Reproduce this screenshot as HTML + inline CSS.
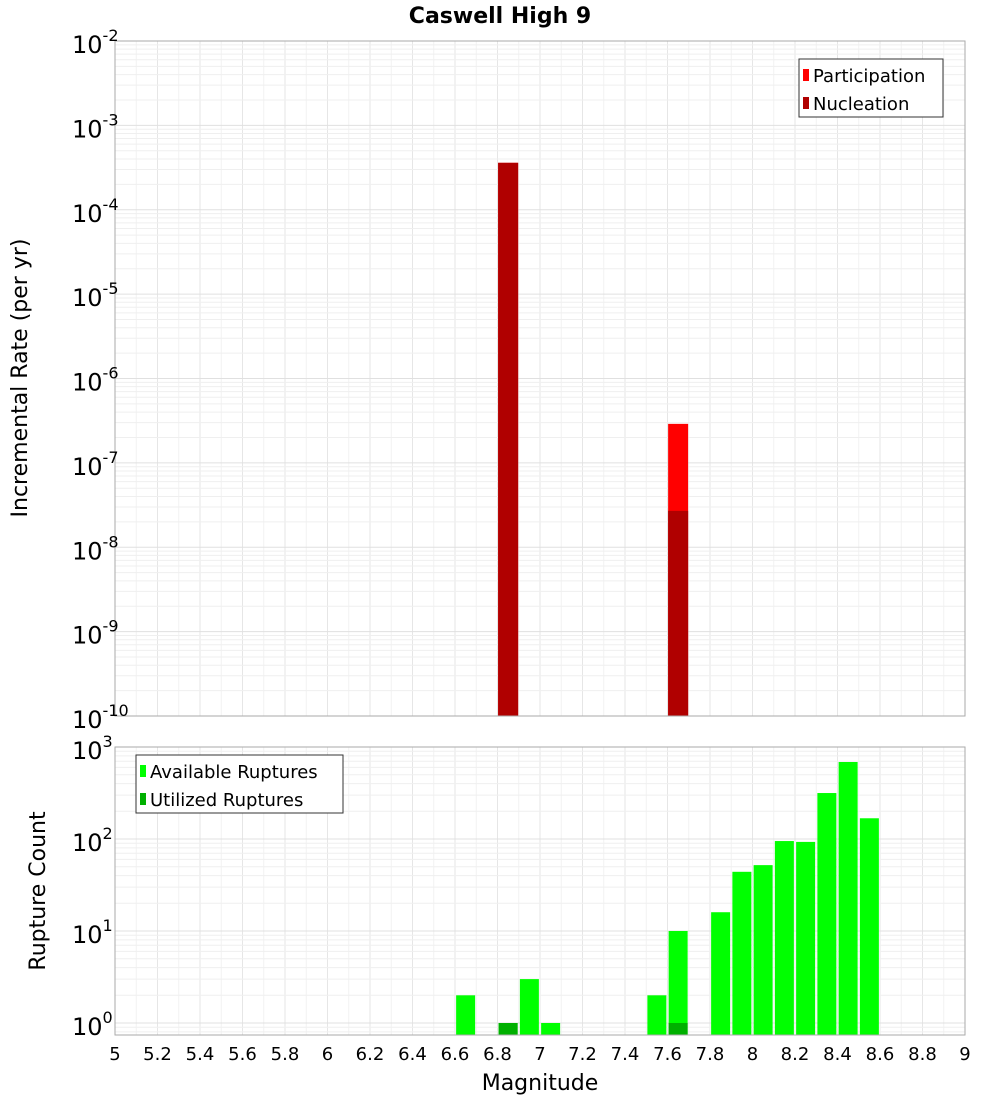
<!DOCTYPE html>
<html><head><meta charset="utf-8"><style>
body{margin:0;background:#fff;font-family:"DejaVu Sans","Liberation Sans",sans-serif;}
svg text{font-family:"DejaVu Sans","Liberation Sans",sans-serif;}
</style></head><body>
<svg id="c" width="1000" height="1100" xmlns="http://www.w3.org/2000/svg"></svg>
<script>
const mags = [6.85, 7.65];
const participation = [3.6e-4, 2.9e-7];
const nucleation = [3.6e-4, 2.7e-8];
const countMags = [6.65, 6.85, 6.95, 7.05, 7.55, 7.65, 7.85, 7.95, 8.05, 8.15, 8.25, 8.35, 8.45, 8.55];
const available = [2, 1, 3, 1, 2, 10, 16, 44, 52, 95, 93, 316, 687, 168];
const utilized = [0, 1, 0, 0, 0, 1, 0, 0, 0, 0, 0, 0, 0, 0];
const xTicks = ["5","5.2","5.4","5.6","5.8","6","6.2","6.4","6.6","6.8","7","7.2","7.4","7.6","7.8","8","8.2","8.4","8.6","8.8","9"];

const svg = document.getElementById('c');
const NS = 'http://www.w3.org/2000/svg';
function el(t, a, p){const e=document.createElementNS(NS,t);for(const k in a)e.setAttribute(k,a[k]);(p||svg).appendChild(e);return e;}
const L=115,R=965;
const x = m => L + (m-5)/4*(R-L);
const T1=41,B1=716, yTop = v => T1 + (-2 - Math.log10(v))*(B1-T1)/8;
const T2=747,B2=1035, D2=92, yBot = v => T2 + (3 - Math.log10(v))*D2;
const bw = 20;

function grid(top,bot,minE,maxE,yf){
  const g=el('g',{});
  
  
  for(let i=0;i<=40;i++){const xx=L+i*(R-L)/40; el('line',{x1:xx,x2:xx,y1:top,y2:bot,stroke:i%2?'#f2f2f2':'#e6e6e6','stroke-width':1},g);}
  for(let e=minE;e<maxE;e++)for(let k=1;k<10;k++){const yy=yf(k*Math.pow(10,e)); if(yy<top||yy>bot)continue; el('line',{x1:L,x2:R,y1:yy,y2:yy,stroke:k==1?'#e0e0e0':'#efefef','stroke-width':1},g);}
}
grid(T1,B1,-10,-2,yTop);
grid(T2,B2,-1,3,yBot);

// top bars
for(let i=0;i<mags.length;i++){
  const r=el('rect',{x:x(mags[i])-bw/2,y:yTop(participation[i]),width:bw,height:B1-yTop(participation[i]),fill:'#ff0000'});
  
  
  const n=el('rect',{x:x(mags[i])-bw/2,y:yTop(nucleation[i]),width:bw,height:B1-yTop(nucleation[i]),fill:'#b00000'});
  
  
}
// bottom bars
for(let i=0;i<countMags.length;i++){
  const r=el('rect',{x:x(countMags[i])-9.5,y:yBot(available[i]),width:19,height:B2-yBot(available[i]),fill:'#00ff00'});
  
  
  if(utilized[i]>0){
    const u=el('rect',{x:x(countMags[i])-9.5,y:yBot(utilized[i]),width:19,height:B2-yBot(utilized[i]),fill:'#00b000'});
    
    
  }
}
el('rect',{x:L,y:T1,width:R-L,height:B1-T1,fill:'none',stroke:'#aaa'});
el('rect',{x:L,y:T2,width:R-L,height:B2-T2,fill:'none',stroke:'#aaa'});

// y labels top
for(let e=-10;e<=-2;e++){
  const yy=yTop(Math.pow(10,e));
  const t=el('text',{x:72,y:yy+12,'font-size':24,fill:'#000'});
  
  
  t.innerHTML='10<tspan dy="-12" font-size="16">'+e+'</tspan>';
}
for(let e=0;e<=3;e++){
  const yy=yBot(Math.pow(10,e));
  const t=el('text',{x:72,y:yy+12,'font-size':24,fill:'#000'});
  
  
  t.innerHTML='10<tspan dy="-12" font-size="16">'+e+'</tspan>';
}
xTicks.forEach((s,i)=>{
  const t=el('text',{x:x(parseFloat(s)),y:1060,'font-size':18,'text-anchor':'middle',fill:'#000'});
  
  
  t.textContent=s;
});
function txt(s,a,name){const t=el('text',a);t.textContent=s;return t;}
txt('Caswell High 9',{x:500,y:23,'font-size':22,'font-weight':'bold','text-anchor':'middle'},'chart-title');
txt('Magnitude',{x:540,y:1090,'font-size':22,'text-anchor':'middle'},'x-axis-title');
txt('Incremental Rate (per yr)',{x:27,y:378,'font-size':22,'text-anchor':'middle',transform:'rotate(-90 27 378)'},'y-axis-title-top');
txt('Rupture Count',{x:45,y:891,'font-size':22,'text-anchor':'middle',transform:'rotate(-90 45 891)'},'y-axis-title-bottom');

// legends
function legend(x0,y0,w,items,name){
  const g=el('g',{});
  
  
  el('rect',{x:x0,y:y0,width:w,height:58,fill:'#fff',stroke:'#333'},g);
  items.forEach((it,i)=>{
    el('rect',{x:x0+4,y:y0+10+i*28,width:6,height:12,fill:it[1]},g);
    const t=el('text',{x:x0+14,y:y0+23+i*28,'font-size':18},g);t.textContent=it[0];
  });
}
legend(799,59,144,[['Participation','#ff0000'],['Nucleation','#b00000']],'legend-top');
legend(136,755,207,[['Available Ruptures','#00ff00'],['Utilized Ruptures','#00b000']],'legend-bottom');
</script>
</body></html>
